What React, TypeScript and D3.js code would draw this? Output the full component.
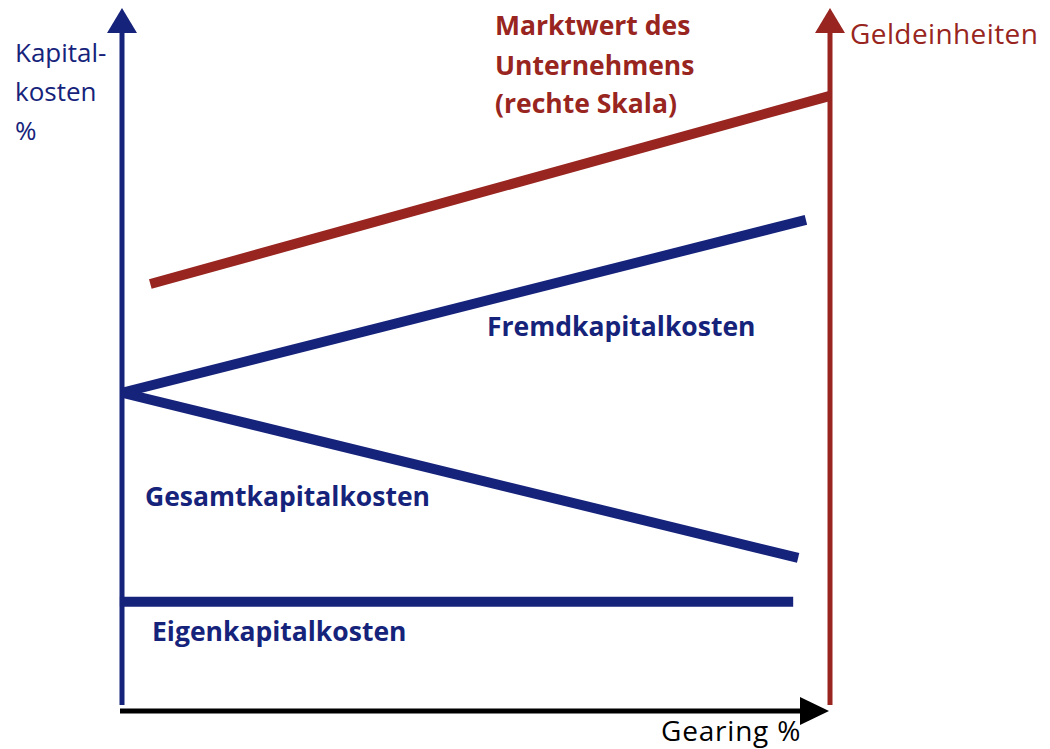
import React, { useRef, useEffect } from 'react';
import * as d3 from 'd3';

interface Pt {
  gearing: number;
  value: number;
}

// gearing % (x) and value (y)
const marktwert: Pt[] = [{ gearing: 4, value: 60.4 }, { gearing: 100, value: 87.4 }];
const fremdkapital: Pt[] = [{ gearing: 0, value: 44.8 }, { gearing: 96.6, value: 69.6 }];
const gesamtkapital: Pt[] = [{ gearing: 0, value: 44.8 }, { gearing: 95.5, value: 21.1 }];
const eigenkapital: Pt[] = [{ gearing: -0.3, value: 14.8 }, { gearing: 94.8, value: 14.8 }];

const BLUE = '#16237b';
const RED = '#982520';

const W = 1050;
const H = 749;

const App: React.FC = () => {
  const svgRef = useRef<SVGSVGElement | null>(null);

  useEffect(() => {
    document.body.style.margin = '0';
    if (!svgRef.current) return;

    const svg = d3.select(svgRef.current)
      .attr('width', W)
      .attr('height', H)
      .style('display', 'block')
      .style('background', '#fff');
    svg.selectAll('*').remove();

    const x = d3.scaleLinear().domain([0, 100]).range([122, 830]);
    const y = d3.scaleLinear().domain([0, 100]).range([705, 8]);

    const line = d3.line<Pt>()
      .x(d => x(d.gearing))
      .y(d => y(d.value));

    const font = '"Open Sans", "Noto Sans", sans-serif';

    // left axis
    svg.append('line')
      .attr('x1', x(0)).attr('x2', x(0))
      .attr('y1', y(0)).attr('y2', y(100) + 20)
      .attr('stroke', BLUE).attr('stroke-width', 5);
    svg.append('path')
      .attr('d', `M${x(0)},${y(100)} L${x(0) - 15},${y(100) + 25} L${x(0) + 15},${y(100) + 25} Z`)
      .attr('fill', BLUE);

    // right axis
    svg.append('line')
      .attr('x1', x(100)).attr('x2', x(100))
      .attr('y1', y(0)).attr('y2', y(100) + 20)
      .attr('stroke', RED).attr('stroke-width', 5);
    svg.append('path')
      .attr('d', `M${x(100)},${y(100)} L${x(100) - 15},${y(100) + 25} L${x(100) + 15},${y(100) + 25} Z`)
      .attr('fill', RED);

    // x axis
    const ax = y(0) + 6;
    svg.append('line')
      .attr('x1', x(0) - 2).attr('x2', x(100) - 25)
      .attr('y1', ax).attr('y2', ax)
      .attr('stroke', '#000').attr('stroke-width', 5);
    svg.append('path')
      .attr('d', `M${x(100) - 1},${ax} L${x(100) - 30},${ax - 14} L${x(100) - 30},${ax + 14} Z`)
      .attr('fill', '#000');

    const series: [Pt[], string][] = [
      [marktwert, RED],
      [fremdkapital, BLUE],
      [gesamtkapital, BLUE],
      [eigenkapital, BLUE],
    ];
    series.forEach(([d, c]) => {
      svg.append('path')
        .datum(d)
        .attr('fill', 'none')
        .attr('stroke', c)
        .attr('stroke-width', 10)
        .attr('d', line);
    });

    const txt = (t: string, tx: number, ty: number, c: string, bold: boolean, size: number, ls = 0) =>
      svg.append('text')
        .attr('x', tx).attr('y', ty)
        .attr('fill', c)
        .attr('font-family', font)
        .attr('font-size', size)
        .attr('font-weight', bold ? 700 : 400)
        .attr('letter-spacing', ls)
        .text(t);

    txt('Kapital-', 15, 62, BLUE, false, 26);
    txt('kosten', 15, 101, BLUE, false, 26);
    txt('%', 15, 140, BLUE, false, 26);
    txt('Geldeinheiten', 850, 44, RED, false, 28, 0.4);
    txt('Gearing %', 661, 741, '#000', false, 28, 0.8);

    txt('Marktwert des', 495, 35, RED, true, 26.5);
    txt('Unternehmens', 495, 75, RED, true, 26.5);
    txt('(rechte Skala)', 495, 113, RED, true, 26.5);
    txt('Fremdkapitalkosten', 487, 336, BLUE, true, 26.5);
    txt('Gesamtkapitalkosten', 145, 506, BLUE, true, 26.5);
    txt('Eigenkapitalkosten', 152, 641, BLUE, true, 26.5);
  }, []);

  return <svg ref={svgRef}></svg>;
};

export default App;
